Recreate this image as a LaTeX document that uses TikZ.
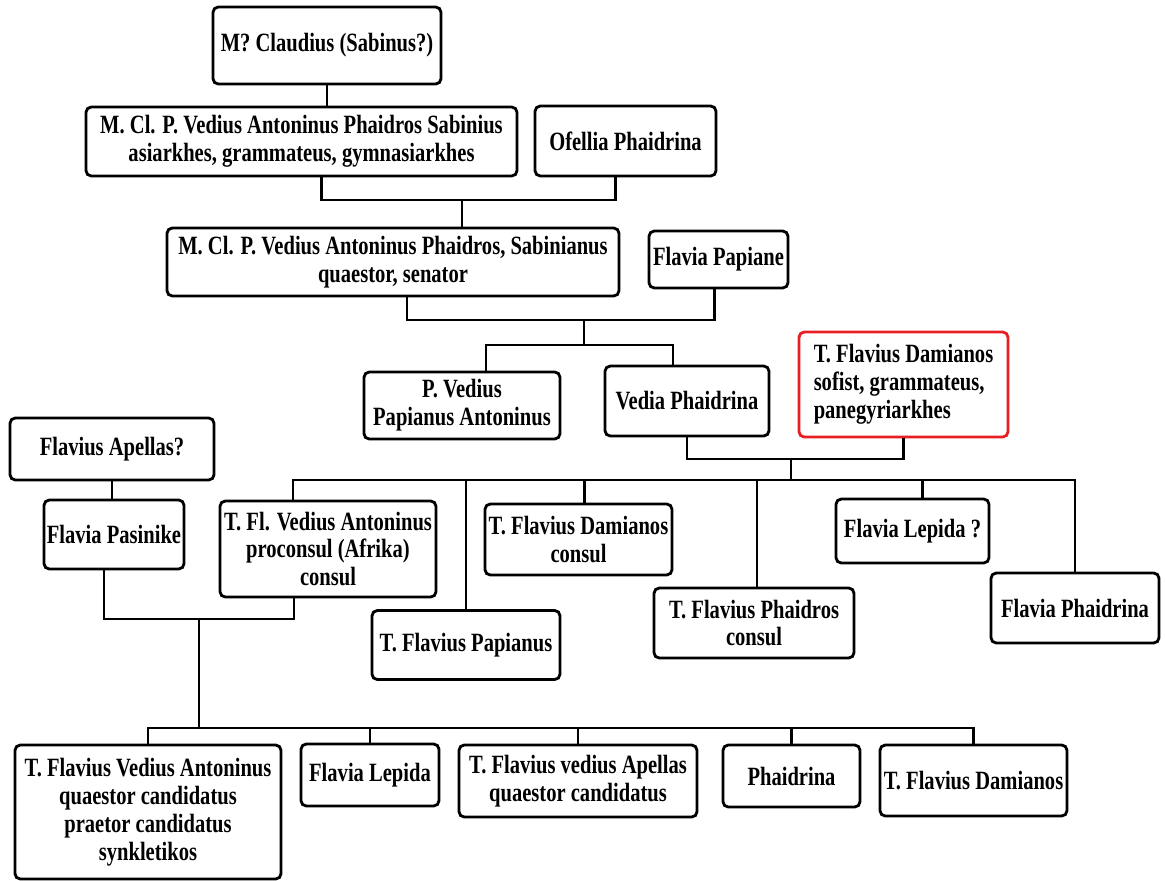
\documentclass[tikz,border=0pt]{standalone}
\usepackage{fontspec}
\setmainfont{Liberation Serif}[FakeStretch=0.78]
\usetikzlibrary{calc}
\definecolor{famred}{RGB}{232,30,34}
\begin{document}
\begin{tikzpicture}[x=0.02cm,y=-0.02cm,
	person/.style={draw,line width=1.6pt,rounded corners=3pt,inner sep=0pt,align=center,
		font=\fontsize{15pt}{15.9pt}\selectfont\bfseries},
	boxsize/.style 2 args={minimum width=#1*0.02cm,minimum height=#2*0.02cm},
	link/.style={line width=1.3pt}]
	\useasboundingbox (0,0) rectangle (1166,880);
	% Claudius and his son
	\node[person,boxsize={228}{77}] (claud) at (327,45.5) {M? Claudius (Sabinus?)};
	\node[person,boxsize={431}{69}] (mcl1) at (301.5,141.5) {M. Cl. P. Vedius Antoninus Phaidros Sabinius\\asiarkhes, grammateus, gymnasiarkhes};
	\node[person,boxsize={181}{70}] (ofel) at (625.5,141) {Ofellia Phaidrina};
	\node[person,boxsize={452}{68}] (mcl2) at (393,262) {M. Cl. P. Vedius Antoninus Phaidros, Sabinianus\\quaestor, senator};
	\node[person,boxsize={139}{57}] (pap) at (718.5,259.5) {Flavia Papiane};
	\node[person,boxsize={196}{67}] (pved) at (462,405.5) {P. Vedius\\Papianus Antoninus};
	\node[person,boxsize={164}{70}] (vedia) at (687,401) {Vedia Phaidrina};
	\node[person,boxsize={209}{105},draw=famred,align=left] (dam) at (903.5,384.5) {T. Flavius Damianos\\sofist, grammateus,\\panegyriarkhes};
	% Flavius Apellas
	\node[person,boxsize={204}{62}] (apel) at (112,449) {Flavius Apellas?};
	\node[person,boxsize={140}{69}] (pas) at (114,534.5) {Flavia Pasinike};
	% children of Vedia and Damianos
	\node[person,boxsize={216}{96}] (tfva) at (328,549) {T. Fl. Vedius Antoninus\\proconsul (Afrika)\\consul};
	\node[person,boxsize={188}{69}] (tfpap) at (466,645) {T. Flavius Papianus};
	\node[person,boxsize={187}{71}] (tfdc) at (578.5,539.5) {T. Flavius Damianos\\consul};
	\node[person,boxsize={200}{70}] (tfph) at (754,623) {T. Flavius Phaidros\\consul};
	\node[person,boxsize={153}{64}] (flep) at (912.5,531) {Flavia Lepida ?};
	\node[person,boxsize={168}{70}] (fphd) at (1075,608) {Flavia Phaidrina};
	% last generation
	\node[person,boxsize={266}{134}] (tfvan) at (148,812) {T. Flavius Vedius Antoninus\\quaestor candidatus\\praetor candidatus\\synkletikos};
	\node[person,boxsize={138}{62}] (flep2) at (370,775) {Flavia Lepida};
	\node[person,boxsize={238}{72}] (tfvap) at (578,781) {T. Flavius vedius Apellas\\quaestor candidatus};
	\node[person,boxsize={137}{62}] (phai) at (791.5,776) {Phaidrina};
	\node[person,boxsize={187}{71}] (tfdam) at (973.5,780.5) {T. Flavius Damianos};
	% junctions
	\coordinate (j1) at (462,200);
	\coordinate (j2) at (584,320);
	\coordinate (k2) at (584,345);
	\coordinate (j3) at (791,459);
	\coordinate (k3) at (791,480);
	\coordinate (j4) at (199,619);
	\coordinate (k4) at (199,728);
	% lines
	\draw[link] (claud.south) -- (claud.south |- mcl1.north);
	\draw[link] ($(mcl1.south)+(20,0)$) |- (j1) -| ($(ofel.south)+(-10,0)$);
	\draw[link] (j1) -- (j1 |- mcl2.north);
	\draw[link] ($(mcl2.south)+(14,0)$) |- (j2) -| ($(pap.south)+(-4,0)$);
	\draw[link] (j2) -- (k2);
	\draw[link] ($(pved.north)+(24,0)$) |- (k2) -| ($(vedia.north)+(-14,0)$);
	\draw[link] (vedia.south) |- (j3) -| (dam.south);
	\draw[link] (j3) -- (k3);
	\draw[link] ($(tfva.north)+(-35,0)$) |- (k3) -| (fphd.north);
	\foreach \n/\dx in {tfpap/0,tfdc/6,tfph/3,flep/10}
		\draw[link] ($(\n.north)+(\dx,0)$) -- ($(\n.north |- k3)+(\dx,0)$);
	\draw[link] (apel.south) -- (apel.south |- pas.north);
	\draw[link] ($(pas.south)+(-10,0)$) |- (j4) -| ($(tfva.south)+(-34,0)$);
	\draw[link] (j4) -- (k4);
	\draw[link] (tfvan.north) |- (k4) -| (tfdam.north);
	\foreach \n in {flep2,tfvap,phai}
		\draw[link] (\n.north) -- (\n.north |- k4);
\end{tikzpicture}
\end{document}
